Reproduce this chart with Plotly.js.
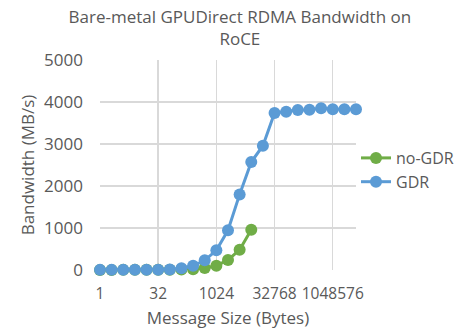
<!DOCTYPE html>
<html>
<head>
<meta charset="utf-8">
<script src="https://cdn.plot.ly/plotly-3.0.1.min.js"></script>
<style>html,body{margin:0;padding:0;background:#fff;}#chart{width:464px;height:335px;}</style>
</head>
<body>
<div id="chart"></div>
<script>
const messageSizes = [1,2,4,8,16,32,64,128,256,512,1024,2048,4096,8192,16384,32768,65536,131072,262144,524288,1048576,2097152,4194304];
const noGdrSizes = [1,2,4,8,16,32,64,128,256,512,1024,2048,4096,8192];
const noGdrBandwidth = [2,2,3,3,4,5,6,10,20,45,100,240,480,960];
const gdrBandwidth = [3,3,4,4,5,6,12,40,100,230,470,945,1800,2570,2960,3740,3770,3810,3815,3850,3830,3825,3825];
const xTickVals = [1,32,1024,32768,1048576];
const xTickText = ['1','32','1024','32768','1048576'];
const yTickVals = [0,1000,2000,3000,4000,5000];

const font = 'Open Sans, Liberation Sans, sans-serif';
const gray = '#595959';

const traces = [
  {x: noGdrSizes, y: noGdrBandwidth, name: 'no-GDR', mode: 'lines+markers', cliponaxis: false,
   line: {color: '#70AD47', width: 3}, marker: {color: '#70AD47', size: 12}},
  {x: messageSizes, y: gdrBandwidth, name: 'GDR', mode: 'lines+markers', cliponaxis: false,
   line: {color: '#5B9BD5', width: 3}, marker: {color: '#5B9BD5', size: 12}}
];

const layout = {
  width: 464, height: 335,
  margin: {l: 100, r: 98, t: 60, b: 65},
  paper_bgcolor: '#fff', plot_bgcolor: '#fff',
  font: {family: font, color: gray, size: 17},
  title: {text: 'Bare-metal GPUDirect RDMA Bandwidth on<br>RoCE', font: {size: 17, color: gray, family: font},
          x: 0.517, xref: 'container', xanchor: 'center', y: 1 - 23/335, yref: 'container', yanchor: 'top'},
  xaxis: {type: 'log', range: [0, Math.log10(4194304)], tickvals: xTickVals, ticktext: xTickText,
          showgrid: true, gridcolor: '#d9d9d9', gridwidth: 1.5, zeroline: false, showline: false,
          ticks: '', ticklabelstandoff: 12, tickfont: {size: 15.5}, tickangle: 0,
          title: {text: 'Message Size (Bytes)', font: {size: 17, color: gray}, standoff: 9}},
  yaxis: {range: [0, 5000], tickvals: yTickVals, showgrid: true, gridcolor: '#d9d9d9', gridwidth: 1.5,
          zeroline: false, showline: false, ticks: '', ticklabelstandoff: 16, tickfont: {size: 17},
          title: {text: 'Bandwidth (MB/s)', font: {size: 17, color: gray}, standoff: 5}},
  legend: {x: 356/464, xref: 'container', y: 1 - 141/335, yref: 'container', xanchor: 'left', yanchor: 'top',
           bgcolor: 'rgba(0,0,0,0)', font: {size: 16, color: gray}, tracegroupgap: 0, itemwidth: 30},
  showlegend: true
};

Plotly.newPlot('chart', traces, layout, {displayModeBar: false, staticPlot: true});
</script>
</body>
</html>
